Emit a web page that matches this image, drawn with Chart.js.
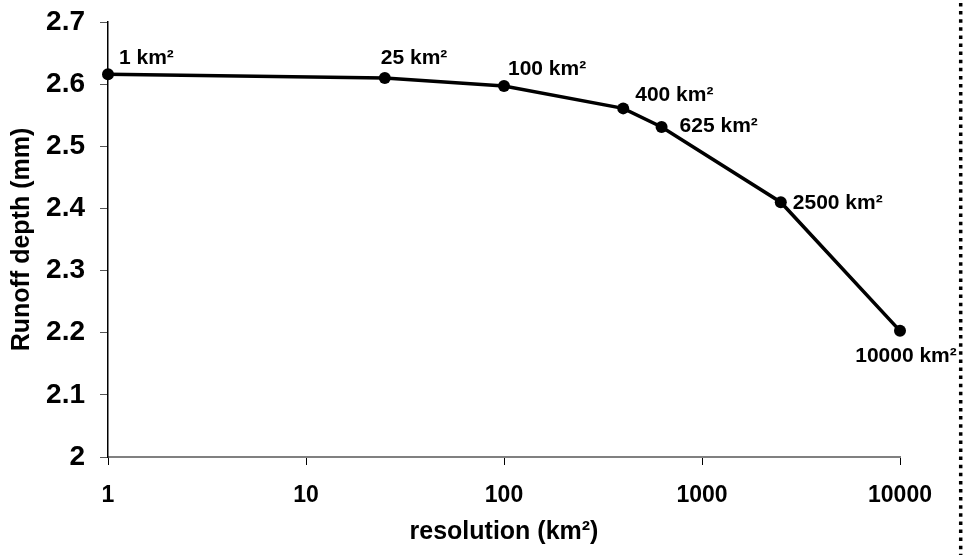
<!DOCTYPE html>
<html>
<head>
<meta charset="utf-8">
<script src="https://cdn.jsdelivr.net/npm/chart.js@4"></script>
<style>
  html, body { margin: 0; padding: 0; background: #fff; }
  #wrap { width: 967px; height: 555px; }
</style>
</head>
<body>
<div id="wrap"><canvas id="c" width="967" height="555"></canvas></div>
<script>
// ---- data ----
const resolutions = [1, 25, 100, 400, 625, 2500, 10000];
const runoffDepth = [2.616, 2.610, 2.597, 2.561, 2.531, 2.410, 2.203];
const pointLabels = ['1 km²', '25 km²', '100 km²', '400 km²', '625 km²', '2500 km²', '10000 km²'];
const xTickValues = [1, 10, 100, 1000, 10000];
const xTickLabels = ['1', '10', '100', '1000', '10000'];
const yTickValues = [2, 2.1, 2.2, 2.3, 2.4, 2.5, 2.6, 2.7];
const yTickLabels = ['2', '2.1', '2.2', '2.3', '2.4', '2.5', '2.6', '2.7'];
const xTitle = 'resolution (km²)';
const yTitle = 'Runoff depth (mm)';

const FONT = '"Liberation Sans", Arial, sans-serif';

// label placement (pixel offsets from the point; style only)
const labelPlacement = [
  {dx: 11, dy: -10, align: 'left'},
  {dx: -4, dy: -14, align: 'left'},
  {dx: 4, dy: -11, align: 'left'},
  {dx: 12, dy: -7, align: 'left'},
  {dx: 18, dy: 5, align: 'left'},
  {dx: 12, dy: 7, align: 'left'},
  {dx: 6, dy: 31, align: 'center'}
];

const pointLabelPlugin = {
  id: 'pointLabels',
  afterDatasetsDraw(chart) {
    const ctx = chart.ctx;
    const meta = chart.getDatasetMeta(0);
    ctx.save();
    ctx.font = 'bold 21px ' + FONT;
    ctx.fillStyle = '#000';
    ctx.textBaseline = 'alphabetic';
    meta.data.forEach((pt, i) => {
      const p = labelPlacement[i];
      ctx.textAlign = p.align;
      ctx.fillText(pointLabels[i], pt.x + p.dx, pt.y + p.dy);
    });
    ctx.restore();
  }
};

const dottedLinePlugin = {
  id: 'dottedLine',
  afterDraw(chart) {
    const ctx = chart.ctx;
    ctx.save();
    ctx.strokeStyle = '#000';
    ctx.lineWidth = 3.5;
    ctx.setLineDash([3.5, 4.6]);
    ctx.beginPath();
    ctx.moveTo(960.7, 3);
    ctx.lineTo(960.7, 555);
    ctx.stroke();
    ctx.restore();
  }
};

new Chart(document.getElementById('c'), {
  type: 'line',
  data: {
    datasets: [{
      data: resolutions.map((r, i) => ({x: r, y: runoffDepth[i]})),
      borderColor: '#000',
      backgroundColor: '#000',
      borderWidth: 3.5,
      pointRadius: 6,
      pointHoverRadius: 6,
      pointBackgroundColor: '#000',
      pointBorderColor: '#000',
      pointBorderWidth: 0,
      tension: 0,
      fill: false,
      clip: false
    }]
  },
  options: {
    responsive: false,
    animation: false,
    events: [],
    layout: { padding: { left: 0, right: 67, top: 22, bottom: 0 } },
    plugins: { legend: { display: false }, tooltip: { enabled: false } },
    scales: {
      x: {
        type: 'logarithmic',
        min: 1,
        max: 10000,
        afterBuildTicks(scale) { scale.ticks = xTickValues.map(v => ({value: v})); },
        afterFit(scale) { scale.height = 98; scale.paddingLeft = 0; scale.paddingRight = 0; },
        ticks: {
          callback: (v) => { const i = xTickValues.indexOf(v); return i >= 0 ? xTickLabels[i] : ''; },
          font: { family: FONT, size: 23, weight: 'bold' },
          color: '#000',
          padding: 17,
          maxRotation: 0,
          autoSkip: false
        },
        grid: { drawOnChartArea: false, drawTicks: true, tickLength: 8, color: '#000', lineWidth: 1 },
        border: { display: true, color: '#808080', width: 2 },
        title: {
          display: true,
          text: xTitle,
          font: { family: FONT, size: 25, weight: 'bold' },
          color: '#000',
          padding: { top: 0, bottom: 8 }
        }
      },
      y: {
        type: 'linear',
        min: 2,
        max: 2.7,
        afterBuildTicks(scale) { scale.ticks = yTickValues.map(v => ({value: v})); },
        afterFit(scale) { scale.width = 108; scale.paddingTop = 0; scale.paddingBottom = 0; },
        ticks: {
          callback: (v) => { const i = yTickValues.findIndex(t => Math.abs(t - v) < 1e-9); return i >= 0 ? yTickLabels[i] : ''; },
          font: { family: FONT, size: 28, weight: 'bold' },
          color: '#000',
          padding: 15
        },
        grid: { drawOnChartArea: false, drawTicks: true, tickLength: 8, color: '#555', lineWidth: 1 },
        border: { display: true, color: '#000', width: 1.5 },
        title: {
          display: true,
          text: yTitle,
          font: { family: FONT, size: 25, weight: 'bold' },
          color: '#000',
          padding: { top: 7, bottom: 0 }
        }
      }
    }
  },
  plugins: [pointLabelPlugin, dottedLinePlugin]
});
</script>
</body>
</html>
